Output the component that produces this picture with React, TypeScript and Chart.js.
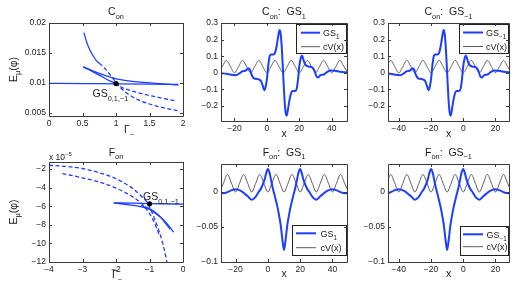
import React, { useEffect, useRef } from 'react';
import { Chart, registerables } from 'chart.js';

Chart.register(...registerables);

const W = 531;
const H = 294;
const FONT = '"Liberation Sans", Arial, Helvetica, sans-serif';
const BLUE = 'rgb(30,62,255)';
const CV_COLOR = '#4a4a4a';
const AXIS = '#3a3a3a';
const TEXT = '#1a1a1a';

// ---------- Panel 1 : C_on  (x = Gamma_-, y = E_mu) ----------
const C_FLAT_X = [0, 0.5, 1, 1.5, 1.93];
const C_FLAT_Y = [0.00995, 0.0099, 0.00987, 0.00982, 0.00975];
const C_STEEP_X = [0.52, 0.56, 0.61, 0.66, 0.71, 0.75];
const C_STEEP_Y = [0.0184, 0.0169, 0.0155, 0.0145, 0.0137, 0.0133];
const C_STEEP_DASH_X = [0.75, 0.81, 0.86, 0.91, 0.96, 1.0, 1.06, 1.15, 1.31, 1.5, 1.66, 1.96];
const C_STEEP_DASH_Y = [0.0133, 0.0127, 0.0121, 0.0114, 0.0107, 0.0101, 0.0093, 0.0084, 0.0073, 0.0065, 0.006, 0.0053];
const C_LOW_X = [0.51, 0.65, 0.8, 0.9, 0.98];
const C_LOW_Y = [0.0127, 0.0119, 0.011, 0.0104, 0.01];
const C_LOW_DASH_X = [0.98, 1.1, 1.26, 1.51, 1.9];
const C_LOW_DASH_Y = [0.01, 0.0092, 0.0086, 0.0079, 0.007];
const C_UP_X = [0.51, 0.7, 0.85, 1.0, 1.16, 1.41, 1.93];
const C_UP_Y = [0.0127, 0.0118, 0.0112, 0.0107, 0.0104, 0.0101, 0.0097];
const C_GS_X = [1];
const C_GS_Y = [0.0099];
const P1_XTICKS = [0, 0.5, 1, 1.5, 2];
const P1_XLABELS = ['0', '0.5', '1', '1.5', '2'];
const P1_YTICKS = [0.005, 0.01, 0.015, 0.02];
const P1_YLABELS = ['0.005', '0.01', '0.015', '0.02'];

// ---------- Panel 4 : F_on  (y in units of 1e-5) ----------
const F_FLAT_X = [-2.07, -1.5, -1, -0.5, 0];
const F_FLAT_Y = [-5.65, -5.68, -5.72, -5.75, -5.78];
const F_SOL1_X = [-2.07, -1.6, -1.2, -0.97, -0.67, -0.47, -0.28];
const F_SOL1_Y = [-5.65, -5.85, -6.1, -6.4, -7.2, -7.9, -8.8];
const F_SOL2_X = [-1.25, -1.0, -0.75, -0.55, -0.38];
const F_SOL2_Y = [-5.95, -6.25, -6.9, -7.7, -8.5];
const F_DASH1_X = [-4, -3.5, -3, -2.5, -2, -1.5, -1.25, -1.07, -0.9, -0.75, -0.62, -0.52, -0.48];
const F_DASH1_Y = [-1.6, -1.72, -1.95, -2.4, -3.05, -4.1, -4.9, -5.6, -6.9, -8.3, -9.8, -11.3, -12];
const F_DASH2_X = [-3.6, -3, -2.5, -2, -1.5, -1.2, -1.0, -0.85, -0.72];
const F_DASH2_Y = [-2.5, -2.95, -3.4, -4.05, -5.0, -5.85, -6.8, -7.8, -9.0];
const F_GS_X = [-1];
const F_GS_Y = [-5.75];
const P4_XTICKS = [-4, -3, -2, -1, 0];
const P4_XLABELS = ['−4', '−3', '−2', '−1', '0'];
const P4_YTICKS = [-12, -10, -8, -6, -4, -2];
const P4_YLABELS = ['−12', '−10', '−8', '−6', '−4', '−2'];

// ---------- Top GS panels ----------
const GS1_TOP_X = [-28.2, -25, -22, -19, -17, -15, -13, -11.5, -10.5, -9.5, -8, -6, -4.5, -3.5, -2.5, -1.6, -0.8, 0, 0.8, 1.6, 2.5, 4, 5, 6, 7, 7.8, 8.5, 9.2, 10, 10.8, 11.5, 12.2, 13, 14, 15, 16, 17.5, 18.4, 19.2, 20, 20.8, 21.6, 22.5, 23.5, 24.5, 26, 28, 29.5, 30.5, 31.5, 33, 35, 37, 39, 42, 45, 49.4];
const GSM1_TOP_X = [-48.2, -45, -42, -39, -37, -35, -33, -31.5, -30.5, -29.5, -28, -26, -24.5, -23.5, -22.5, -21.6, -20.8, -20, -19.2, -18.4, -17.5, -16, -15, -14, -13, -12.2, -11.5, -10.8, -10, -9.2, -8.5, -7.8, -7, -6, -5, -4, -2.5, -1.6, -0.8, 0, 0.8, 1.6, 2.5, 3.5, 4.5, 6, 8, 9.5, 10.5, 11.5, 13, 15, 17, 19, 22, 25, 29.4];
const GS_TOP_Y = [-0.002, -0.006, -0.012, -0.014, -0.004, 0.01, 0.014, 0.028, 0.02, -0.01, -0.033, -0.037, -0.042, -0.052, -0.08, -0.105, -0.085, -0.04, 0.04, 0.095, 0.11, 0.11, 0.12, 0.16, 0.22, 0.258, 0.235, 0.15, 0.0, -0.15, -0.235, -0.258, -0.22, -0.16, -0.12, -0.11, -0.11, -0.095, -0.04, 0.04, 0.085, 0.105, 0.08, 0.052, 0.042, 0.037, 0.033, 0.01, -0.02, -0.028, -0.014, -0.01, 0.004, 0.014, 0.012, 0.006, 0.002];

// ---------- Bottom GS panels ----------
const GS1_BOT_X = [-29, -26, -23, -20, -17, -14, -12, -10, -8, -6, -4, -2, -1, 0, 1, 2, 3, 4, 5, 6, 7, 8, 9, 10, 11, 12, 13, 14, 15, 16, 17, 18, 19, 20, 21, 22, 24, 26, 28, 30, 32, 34, 37, 40, 43, 46, 49];
const GSM1_BOT_X = [-49, -46, -43, -40, -37, -34, -32, -30, -28, -26, -24, -22, -21, -20, -19, -18, -17, -16, -15, -14, -13, -12, -11, -10, -9, -8, -7, -6, -5, -4, -3, -2, -1, 0, 1, 2, 4, 6, 8, 10, 12, 14, 17, 20, 23, 26, 29];
const GS_BOT_Y = [-0.002, -0.001, 0.002, 0.004, 0.002, -0.003, -0.007, -0.011, -0.008, -0.001, 0.006, 0.018, 0.027, 0.033, 0.028, 0.017, 0.006, -0.003, -0.012, -0.022, -0.034, -0.048, -0.068, -0.083, -0.068, -0.048, -0.034, -0.022, -0.012, -0.003, 0.006, 0.017, 0.028, 0.033, 0.027, 0.018, 0.006, -0.001, -0.008, -0.011, -0.007, -0.003, 0.002, 0.004, 0.002, -0.001, -0.002];

// ---------- cV(x) ----------
const CV_X_RIGHT = [-30, -27.5, -25, -22.5, -20, -17.5, -15, -12.5, -10, -7.5, -5, -2.5, 0, 2.5, 5, 7.5, 10, 12.5, 15, 17.5, 20, 22.5, 25, 27.5, 30, 32.5, 35, 37.5, 40, 42.5, 45, 47.5, 50];
const CV_X_LEFT = [-50, -47.5, -45, -42.5, -40, -37.5, -35, -32.5, -30, -27.5, -25, -22.5, -20, -17.5, -15, -12.5, -10, -7.5, -5, -2.5, 0, 2.5, 5, 7.5, 10, 12.5, 15, 17.5, 20, 22.5, 25, 27.5, 30];
const CV_TOP_Y = [0, 0.0375, 0.075, 0.0375, 0, 0.0375, 0.075, 0.0375, 0, 0.0375, 0.075, 0.0375, 0, 0.0375, 0.075, 0.0375, 0, 0.0375, 0.075, 0.0375, 0, 0.0375, 0.075, 0.0375, 0, 0.0375, 0.075, 0.0375, 0, 0.0375, 0.075, 0.0375, 0];
const CV_BOT_Y = [0, 0.0125, 0.025, 0.0125, 0, 0.0125, 0.025, 0.0125, 0, 0.0125, 0.025, 0.0125, 0, 0.0125, 0.025, 0.0125, 0, 0.0125, 0.025, 0.0125, 0, 0.0125, 0.025, 0.0125, 0, 0.0125, 0.025, 0.0125, 0, 0.0125, 0.025, 0.0125, 0];

const X_RIGHT_TICKS = [-20, 0, 20, 40];
const X_RIGHT_LABELS = ['−20', '0', '20', '40'];
const X_LEFT_TICKS = [-40, -20, 0, 20];
const X_LEFT_LABELS = ['−40', '−20', '0', '20'];
const Y_TOP_TICKS = [-0.2, -0.1, 0, 0.1, 0.2, 0.3];
const Y_TOP_LABELS = ['−0.2', '−0.1', '0', '0.1', '0.2', '0.3'];
const Y_BOT_TICKS = [-0.1, -0.05, 0];
const Y_BOT_LABELS = ['−0.1', '−0.05', '0'];

// ---------- helpers ----------
type Seg = [string, number]; // 0 normal, 1 subscript, 2 superscript

function drawRich(ctx: CanvasRenderingContext2D, segs: Seg[], x: number, y: number, size: number, align: string = 'left', color: string = TEXT) {
  const small = size * 0.7;
  let w = 0;
  for (const [t, k] of segs) {
    ctx.font = `${k ? small : size}px ${FONT}`;
    w += ctx.measureText(t).width;
  }
  let cx = align === 'center' ? x - w / 2 : align === 'right' ? x - w : x;
  ctx.fillStyle = color;
  ctx.textAlign = 'left';
  ctx.textBaseline = 'alphabetic';
  for (const [t, k] of segs) {
    ctx.font = `${k ? small : size}px ${FONT}`;
    const dy = k === 1 ? size * 0.36 : k === 2 ? -size * 0.45 : 0;
    ctx.fillText(t, cx, y + dy);
    cx += ctx.measureText(t).width;
  }
}

const pts = (xs: number[], ys: number[]) => xs.map((x, i) => ({ x, y: ys[i] }));

function line(xs: number[], ys: number[], extra: any = {}) {
  return {
    data: pts(xs, ys),
    borderColor: BLUE,
    borderWidth: 1.3,
    pointRadius: 0,
    fill: false,
    cubicInterpolationMode: 'monotone',
    ...extra,
  };
}
function dot(xs: number[], ys: number[]) {
  return {
    data: pts(xs, ys),
    showLine: false,
    pointRadius: 2.6,
    pointBackgroundColor: '#000',
    pointBorderColor: '#000',
    pointBorderWidth: 0,
  };
}
const DASH = [4, 2.5];

interface Axis { min: number; max: number; ticks: number[]; labels: string[] }
interface Legend { box: number[]; line: number[]; rows: number[]; textX: number; label: Seg[] }
interface Spec {
  box: number[];
  x: Axis;
  y: Axis;
  datasets: any[];
  title: Seg[];
  titleX: number;
  titleY: number;
  xLabel: Seg[];
  xLabelX: number;
  xLabelY: number;
  xLabelAlign: string;
  yLabel?: Seg[];
  yLabelX?: number;
  legend?: Legend;
  extra?: (ctx: CanvasRenderingContext2D, chart: any) => void;
}

const YW = 40;
const XH = 18;

function scale(ax: Axis, isY: boolean) {
  return {
    type: 'linear',
    min: ax.min,
    max: ax.max,
    grid: { display: false, drawTicks: false },
    border: { display: false },
    ticks: {
      font: { family: FONT, size: 8.5 },
      color: TEXT,
      padding: 3,
      maxRotation: 0,
      minRotation: 0,
      autoSkip: false,
      callback: (_v: any, i: number) => ax.labels[i],
    },
    afterBuildTicks: (s: any) => {
      s.ticks = ax.ticks.map((v) => ({ value: v }));
    },
    afterFit: (s: any) => {
      if (isY) s.width = YW;
      else s.height = XH;
    },
  };
}

function buildConfig(spec: Spec): any {
  const [l, t, r, b] = spec.box;
  const deco = {
    id: 'deco',
    afterDatasetsDraw(chart: any) {
      const ctx: CanvasRenderingContext2D = chart.ctx;
      const { left, right, top, bottom } = chart.chartArea;
      const xs = chart.scales.x;
      const ys = chart.scales.y;
      ctx.save();
      // legend
      if (spec.legend) {
        const lg = spec.legend;
        const [a, bt, c, d] = lg.box;
        ctx.fillStyle = '#fff';
        ctx.fillRect(a, bt, c - a, d - bt);
        ctx.strokeStyle = '#222';
        ctx.lineWidth = 1;
        ctx.strokeRect(a + 0.5, bt + 0.5, c - a, d - bt);
        ctx.beginPath();
        ctx.strokeStyle = BLUE;
        ctx.lineWidth = 2;
        ctx.moveTo(lg.line[0], lg.rows[0]);
        ctx.lineTo(lg.line[1], lg.rows[0]);
        ctx.stroke();
        ctx.beginPath();
        ctx.strokeStyle = CV_COLOR;
        ctx.lineWidth = 0.9;
        ctx.moveTo(lg.line[0], lg.rows[1]);
        ctx.lineTo(lg.line[1], lg.rows[1]);
        ctx.stroke();
        drawRich(ctx, lg.label, lg.textX, lg.rows[0] + 3.3, 9);
        drawRich(ctx, [['cV(x)', 0]], lg.textX, lg.rows[1] + 3.3, 9);
      }
      // frame
      ctx.strokeStyle = AXIS;
      ctx.lineWidth = 1;
      ctx.beginPath();
      ctx.rect(left + 0.5, top + 0.5, right - left, bottom - top);
      ctx.stroke();
      const TL = 3;
      ctx.beginPath();
      for (const tk of xs.ticks) {
        const p = Math.round(xs.getPixelForValue(tk.value)) + 0.5;
        ctx.moveTo(p, bottom);
        ctx.lineTo(p, bottom - TL);
        ctx.moveTo(p, top);
        ctx.lineTo(p, top + TL);
      }
      for (const tk of ys.ticks) {
        const p = Math.round(ys.getPixelForValue(tk.value)) + 0.5;
        ctx.moveTo(left, p);
        ctx.lineTo(left + TL, p);
        ctx.moveTo(right, p);
        ctx.lineTo(right - TL, p);
      }
      ctx.stroke();
      // title
      drawRich(ctx, spec.title, spec.titleX, spec.titleY, 10.5, 'center');
      // x label
      drawRich(ctx, spec.xLabel, spec.xLabelX, spec.xLabelY, 10.5, spec.xLabelAlign);
      // y label
      if (spec.yLabel) {
        ctx.save();
        ctx.translate(spec.yLabelX as number, (top + bottom) / 2);
        ctx.rotate(-Math.PI / 2);
        drawRich(ctx, spec.yLabel, 0, 0, 10.5, 'center');
        ctx.restore();
      }
      if (spec.extra) spec.extra(ctx, chart);
      ctx.restore();
    },
  };
  return {
    type: 'line',
    data: { datasets: spec.datasets },
    options: {
      animation: false,
      responsive: false,
      maintainAspectRatio: false,
      events: [],
      layout: { padding: { left: l - YW, top: t, right: W - r, bottom: H - b - XH } },
      plugins: { legend: { display: false }, tooltip: { enabled: false }, title: { display: false } },
      scales: { x: scale(spec.x, false), y: scale(spec.y, true) },
    },
    plugins: [deco],
  };
}

const Y_LABEL: Seg[] = [['E', 0], ['μ', 1], ['(φ)', 0]];
const GAMMA: Seg[] = [['Γ', 0], ['−', 1]];
const GS_NOTE: Seg[] = [['GS', 0], ['0,1,−1', 1]];

const SPECS: Spec[] = [
  {
    box: [49, 23, 183, 116],
    x: { min: 0, max: 2, ticks: P1_XTICKS, labels: P1_XLABELS },
    y: { min: 0.0045, max: 0.02, ticks: P1_YTICKS, labels: P1_YLABELS },
    datasets: [
      dot(C_GS_X, C_GS_Y),
      line(C_FLAT_X, C_FLAT_Y),
      line(C_STEEP_X, C_STEEP_Y),
      line(C_STEEP_DASH_X, C_STEEP_DASH_Y, { borderDash: DASH }),
      line(C_LOW_X, C_LOW_Y),
      line(C_LOW_DASH_X, C_LOW_DASH_Y, { borderDash: DASH }),
      line(C_UP_X, C_UP_Y),
    ],
    title: [['C', 0], ['on', 1]],
    titleX: 116,
    titleY: 15,
    xLabel: GAMMA,
    xLabelX: 124,
    xLabelY: 133,
    xLabelAlign: 'left',
    yLabel: Y_LABEL,
    yLabelX: 16.5,
    extra: (ctx) => drawRich(ctx, GS_NOTE, 92.5, 97, 10.5),
  },
  {
    box: [221, 23, 347, 121],
    x: { min: -28.3, max: 49.4, ticks: X_RIGHT_TICKS, labels: X_RIGHT_LABELS },
    y: { min: -0.29, max: 0.3, ticks: Y_TOP_TICKS, labels: Y_TOP_LABELS },
    datasets: [
      line(GS1_TOP_X, GS_TOP_Y, { borderWidth: 2 }),
      line(CV_X_RIGHT, CV_TOP_Y, { borderColor: CV_COLOR, borderWidth: 0.9 }),
    ],
    title: [['C', 0], ['on', 1], [':  GS', 0], ['1', 1]],
    titleX: 284,
    titleY: 15,
    xLabel: [['x', 0]],
    xLabelX: 284,
    xLabelY: 137,
    xLabelAlign: 'center',
    legend: { box: [296, 24, 346, 53], line: [301, 320], rows: [32.7, 46.7], textX: 323, label: [['GS', 0], ['1', 1]] },
  },
  {
    box: [388, 23, 509, 121],
    x: { min: -46.7, max: 28.4, ticks: X_LEFT_TICKS, labels: X_LEFT_LABELS },
    y: { min: -0.29, max: 0.3, ticks: Y_TOP_TICKS, labels: Y_TOP_LABELS },
    datasets: [
      line(GSM1_TOP_X, GS_TOP_Y, { borderWidth: 2 }),
      line(CV_X_LEFT, CV_TOP_Y, { borderColor: CV_COLOR, borderWidth: 0.9 }),
    ],
    title: [['C', 0], ['on', 1], [':  GS', 0], ['−1', 1]],
    titleX: 448.5,
    titleY: 15,
    xLabel: [['x', 0]],
    xLabelX: 448.5,
    xLabelY: 137,
    xLabelAlign: 'center',
    legend: { box: [459, 24, 508, 53], line: [463, 483], rows: [32.5, 46.5], textX: 486, label: [['GS', 0], ['−1', 1]] },
  },
  {
    box: [49, 162, 183, 262],
    x: { min: -4, max: 0, ticks: P4_XTICKS, labels: P4_XLABELS },
    y: { min: -12, max: -1.25, ticks: P4_YTICKS, labels: P4_YLABELS },
    datasets: [
      dot(F_GS_X, F_GS_Y),
      line(F_FLAT_X, F_FLAT_Y),
      line(F_SOL1_X, F_SOL1_Y),
      line(F_SOL2_X, F_SOL2_Y),
      line(F_DASH1_X, F_DASH1_Y, { borderDash: DASH }),
      line(F_DASH2_X, F_DASH2_Y, { borderDash: DASH }),
    ],
    title: [['F', 0], ['on', 1]],
    titleX: 116,
    titleY: 155.5,
    xLabel: GAMMA,
    xLabelX: 112,
    xLabelY: 278,
    xLabelAlign: 'left',
    yLabel: Y_LABEL,
    yLabelX: 16.5,
    extra: (ctx) => {
      drawRich(ctx, [['x 10', 0], ['−5', 2]], 49, 159.5, 8.5);
      drawRich(ctx, GS_NOTE, 143, 200, 10.5);
    },
  },
  {
    box: [221, 164, 347, 262],
    x: { min: -29, max: 49, ticks: X_RIGHT_TICKS, labels: X_RIGHT_LABELS },
    y: { min: -0.1, max: 0.04, ticks: Y_BOT_TICKS, labels: Y_BOT_LABELS },
    datasets: [
      line(GS1_BOT_X, GS_BOT_Y, { borderWidth: 2 }),
      line(CV_X_RIGHT, CV_BOT_Y, { borderColor: CV_COLOR, borderWidth: 0.9 }),
    ],
    title: [['F', 0], ['on', 1], [':  GS', 0], ['1', 1]],
    titleX: 284,
    titleY: 155.5,
    xLabel: [['x', 0]],
    xLabelX: 284,
    xLabelY: 277,
    xLabelAlign: 'center',
    legend: { box: [292, 225, 346, 255], line: [296, 316], rows: [233.3, 247.7], textX: 320.5, label: [['GS', 0], ['1', 1]] },
  },
  {
    box: [388, 164, 509, 262],
    x: { min: -46.7, max: 28.4, ticks: X_LEFT_TICKS, labels: X_LEFT_LABELS },
    y: { min: -0.1, max: 0.04, ticks: Y_BOT_TICKS, labels: Y_BOT_LABELS },
    datasets: [
      line(GSM1_BOT_X, GS_BOT_Y, { borderWidth: 2 }),
      line(CV_X_LEFT, CV_BOT_Y, { borderColor: CV_COLOR, borderWidth: 0.9 }),
    ],
    title: [['F', 0], ['on', 1], [':  GS', 0], ['−1', 1]],
    titleX: 448.5,
    titleY: 155.5,
    xLabel: [['x', 0]],
    xLabelX: 448.5,
    xLabelY: 277,
    xLabelAlign: 'center',
    legend: { box: [460, 226, 508, 255], line: [463, 483], rows: [234.3, 246.7], textX: 486.5, label: [['GS', 0], ['−1', 1]] },
  },
];

function Panel({ spec }: { spec: Spec }) {
  const ref = useRef<HTMLCanvasElement>(null);
  useEffect(() => {
    const chart = new Chart(ref.current as HTMLCanvasElement, buildConfig(spec));
    return () => chart.destroy();
  }, [spec]);
  return (
    <canvas
      ref={ref}
      width={W}
      height={H}
      style={{ position: 'absolute', left: 0, top: 0, width: W, height: H }}
    />
  );
}

export default function App() {
  return (
    <div style={{ position: 'fixed', left: 0, top: 0, width: W, height: H, background: '#fff', overflow: 'hidden' }}>
      {SPECS.map((s, i) => (
        <Panel key={i} spec={s} />
      ))}
    </div>
  );
}
